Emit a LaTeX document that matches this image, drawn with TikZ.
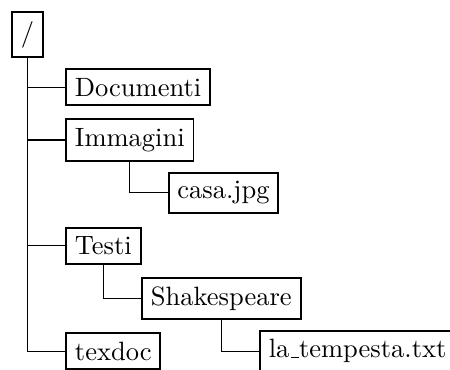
\documentclass[tikz,border=0pt]{standalone}
\usetikzlibrary{calc}
\tikzset{
  dirbox/.style={draw, line width=0.75pt, anchor=west},
  branch/.style={line width=0.4pt},
}
\newcommand{\dx}{0.5cm}
\newcommand{\dy}{0.7cm}
% classic short underscore rule
\newcommand{\lowbar}{\leavevmode\kern.06em\vbox{\hrule width.3em}}
\begin{document}
\begin{tikzpicture}
  \useasboundingbox (-4.15pt,13pt) rectangle (165.65pt,-126.6pt);
  % root directory
  \node[dirbox] (root) at (0,0) {/};
  % first level
  \node[dirbox] (doc) at ($(root.center)+(\dx,-\dy)$) {Documenti};
  \node[dirbox] (img) at ($(root.center)+(\dx,-2*\dy)$) {Immagini};
  \node[dirbox] (casa) at ($(img.center)+(\dx,-\dy)$) {casa.jpg};
  \node[dirbox] (testi) at ($(root.center)+(\dx,-4*\dy)$) {Testi};
  \node[dirbox] (shak) at ($(testi.center)+(\dx,-\dy)$) {Shakespeare};
  \node[dirbox] (temp) at ($(shak.center)+(\dx,-\dy)$) {la\lowbar tempesta.txt};
  \node[dirbox] (texdoc) at ($(root.center)+(\dx,-6*\dy)$) {texdoc};
  % branches
  \draw[branch] (root.south) |- (doc.west);
  \draw[branch] (root.south) |- (img.west);
  \draw[branch] (root.south) |- (testi.west);
  \draw[branch] (root.south) |- (texdoc.west);
  \draw[branch] (img.south) |- (casa.west);
  \draw[branch] (testi.south) |- (shak.west);
  \draw[branch] (shak.south) |- (temp.west);
\end{tikzpicture}
\end{document}
